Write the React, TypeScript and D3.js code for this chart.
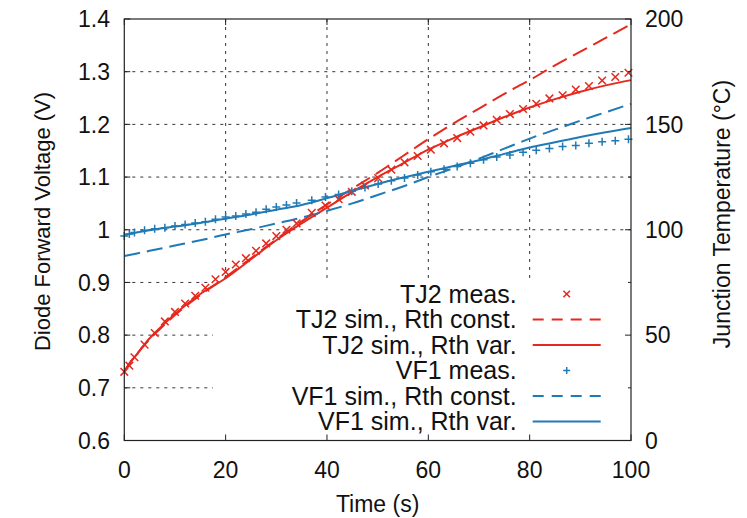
import React from "react";
import * as d3 from "d3";

// ---- Data ----
const measTime = [0, 1, 2, 4, 6, 8, 10, 12, 14, 16, 18, 20, 22, 24, 26, 28, 30, 32, 34, 37, 39.7, 42.3, 44.9, 47.5, 50.1, 52.7, 55.3, 57.9, 60.5, 63.1, 65.7, 68.3, 70.9, 73.5, 76.1, 78.7, 81.3, 83.9, 86.5, 89.1, 91.7, 94.3, 96.9, 99.5];
// Junction temperature TJ2 measured (°C)
const tj2Meas = [32.6, 35.5, 39.5, 45.5, 51, 56.5, 61, 65, 68.7, 72.5, 76.5, 80, 83.5, 86.5, 90, 93.5, 97, 100, 103, 108, 111.5, 114.5, 118, 121, 124.5, 128.5, 132, 135, 138, 141, 143.5, 146.5, 149.5, 152.2, 154.9, 157.3, 159.8, 162.3, 163.8, 166.5, 168.2, 170.8, 172.5, 174.5];
// Diode forward voltage VF1 measured (V)
const vf1Meas = [0.988, 0.992, 0.995, 0.999, 1.002, 1.004, 1.007, 1.01, 1.013, 1.015, 1.02, 1.024, 1.026, 1.03, 1.033, 1.039, 1.043, 1.047, 1.051, 1.056, 1.062, 1.067, 1.073, 1.08, 1.087, 1.093, 1.098, 1.104, 1.11, 1.115, 1.12, 1.126, 1.133, 1.138, 1.142, 1.147, 1.151, 1.154, 1.158, 1.16, 1.164, 1.167, 1.169, 1.172];

const simTime = [0, 1, 2.5, 5, 7.5, 10, 15, 20, 25, 30, 35, 40, 45, 50, 55, 60, 65, 70, 75, 80, 85, 90, 95, 100];
const tj2SimConst = [32.6, 36.5, 41, 48, 54, 59.5, 69, 77.5, 86.5, 95.5, 104, 112, 119.5, 127, 135, 143, 150.5, 157.5, 164.5, 171, 178, 184.5, 191, 197.5];
const tj2SimVar = [32.6, 36.5, 41, 48.5, 54.5, 60, 69.5, 77, 86, 95, 103, 110.5, 118, 125, 131.5, 138, 143.5, 148.5, 153.5, 158, 162, 165.5, 168.5, 171];
const vf1SimConst = [0.95, 0.952, 0.955, 0.96, 0.965, 0.97, 0.98, 0.991, 1.001, 1.012, 1.023, 1.036, 1.05, 1.066, 1.082, 1.1, 1.117, 1.135, 1.154, 1.173, 1.19, 1.207, 1.223, 1.239];
const vf1SimVar = [0.99, 0.992, 0.995, 0.999, 1.003, 1.006, 1.013, 1.021, 1.029, 1.038, 1.047, 1.06, 1.074, 1.087, 1.099, 1.11, 1.121, 1.132, 1.144, 1.156, 1.166, 1.176, 1.185, 1.193];

const xTicks = [0, 20, 40, 60, 80, 100];
const yTicks = [0.6, 0.7, 0.8, 0.9, 1, 1.1, 1.2, 1.3, 1.4];
const y2Ticks = [0, 50, 100, 150, 200];
const y2Minor = [25, 75, 125, 175];

const legendLabels = [
  "TJ2 meas.",
  "TJ2 sim., Rth const.",
  "TJ2 sim., Rth var.",
  "VF1 meas.",
  "VF1 sim., Rth const.",
  "VF1 sim., Rth var.",
];

const RED = "#e5291f";
const BLUE = "#1f7ab5";
const FONT = "'Liberation Sans', Arial, Helvetica, sans-serif";

export default function App() {
  const W = 747, H = 518;
  const L = 124.3, R = 631, T = 19, B = 440.5;
  const x = d3.scaleLinear().domain([0, 100]).range([L, R]);
  const yV = d3.scaleLinear().domain([0.6, 1.4]).range([B, T]);
  const yT = d3.scaleLinear().domain([0, 200]).range([B, T]);

  const lineT = d3.line<number>().x((_, i) => x(simTime[i])).y((d) => yT(d)).curve(d3.curveMonotoneX);
  const lineV = d3.line<number>().x((_, i) => x(simTime[i])).y((d) => yV(d)).curve(d3.curveMonotoneX);

  const cross = (cx: number, cy: number, s: number, color: string, key: string) => (
    <path key={key} d={`M${cx - s},${cy - s}L${cx + s},${cy + s}M${cx - s},${cy + s}L${cx + s},${cy - s}`} stroke={color} strokeWidth={1.5} fill="none" />
  );
  const plus = (cx: number, cy: number, s: number, color: string, key: string) => (
    <path key={key} d={`M${cx - s},${cy}L${cx + s},${cy}M${cx},${cy - s}L${cx},${cy + s}`} stroke={color} strokeWidth={1.5} fill="none" />
  );

  const legX = 516.7, sampleX1 = 532.7, sampleX2 = 600.7, sampleMid = 566.7;
  const legY0 = 294, legDy = 25.5;

  return (
    <svg width={W} height={H} style={{ position: "absolute", left: 0, top: 0, background: "#fff" }} fontFamily={FONT}>
      <rect x={0} y={0} width={W} height={H} fill="#fff" />
      {/* grid */}
      <g stroke="#333" strokeWidth={1} strokeDasharray="3,5">
        {xTicks.filter((t) => t > 0 && t < 100).map((t) => (
          <line key={"gx" + t} x1={x(t)} x2={x(t)} y1={T} y2={B} />
        ))}
        {yTicks.filter((t) => t > 0.6 && t < 1.4).map((t) => (
          <line key={"gy" + t} x1={L} x2={R} y1={yV(t)} y2={yV(t)} />
        ))}
      </g>
      {/* opaque legend background */}
      <rect x={213} y={281} width={R - 213} height={B - 281} fill="#fff" />
      {/* curves */}
      <path d={lineT(tj2SimConst) || ""} fill="none" stroke={RED} strokeWidth={2} strokeDasharray="16,7" />
      <path d={lineT(tj2SimVar) || ""} fill="none" stroke={RED} strokeWidth={2} />
      <path d={lineV(vf1SimConst) || ""} fill="none" stroke={BLUE} strokeWidth={2} strokeDasharray="16,7" />
      <path d={lineV(vf1SimVar) || ""} fill="none" stroke={BLUE} strokeWidth={2} />
      {tj2Meas.map((v, i) => cross(x(measTime[i]), yT(v), 3.8, RED, "m1" + i))}
      {vf1Meas.map((v, i) => plus(x(measTime[i]), yV(v), 4, BLUE, "m2" + i))}
      {/* border */}
      <rect x={L} y={T} width={R - L} height={B - T} fill="none" stroke="#222" strokeWidth={1.2} />
      {/* ticks */}
      <g stroke="#222" strokeWidth={1}>
        {xTicks.map((t) => (
          <g key={"xt" + t}>
            <line x1={x(t)} x2={x(t)} y1={B} y2={B - 6} />
            <line x1={x(t)} x2={x(t)} y1={T} y2={T + 6} />
          </g>
        ))}
        {yTicks.map((t) => (
          <line key={"yt" + t} x1={L} x2={L + 6} y1={yV(t)} y2={yV(t)} />
        ))}
        {y2Ticks.map((t) => (
          <line key={"y2t" + t} x1={R} x2={R - 6} y1={yT(t)} y2={yT(t)} />
        ))}
        {y2Minor.map((t) => (
          <line key={"y2m" + t} x1={R} x2={R - 3} y1={yT(t)} y2={yT(t)} />
        ))}
      </g>
      {/* tick labels */}
      <g fontSize={23} fill="#111">
        {xTicks.map((t) => (
          <text key={"xl" + t} x={x(t)} y={478} textAnchor="middle">{t}</text>
        ))}
        {yTicks.map((t) => (
          <text key={"yl" + t} x={110} y={yV(t) + 8.3} textAnchor="end">{d3.format("")(t)}</text>
        ))}
        {y2Ticks.map((t) => (
          <text key={"y2l" + t} x={645} y={yT(t) + 8.3} textAnchor="start">{t}</text>
        ))}
      </g>
      {/* axis titles */}
      <text x={(L + R) / 2} y={512} textAnchor="middle" fontSize={23} fill="#111">Time (s)</text>
      <text transform={`translate(50,221.5) rotate(-90)`} textAnchor="middle" fontSize={22} fill="#111">Diode Forward Voltage (V)</text>
      <text transform={`translate(730,214) rotate(-90)`} textAnchor="middle" fontSize={23} fill="#111">Junction Temperature (°C)</text>
      {/* legend */}
      <g fontSize={25} fill="#111">
        {legendLabels.map((lab, i) => {
          const cy = legY0 + i * legDy;
          const color = i < 3 ? RED : BLUE;
          let sample: React.ReactNode = null;
          if (i === 0) sample = cross(sampleMid, cy, 3.3, color, "lc");
          else if (i === 3) sample = plus(sampleMid, cy, 3.5, color, "lp");
          else if (i === 1 || i === 4)
            sample = <line x1={sampleX1} x2={sampleX2} y1={cy} y2={cy} stroke={color} strokeWidth={2} strokeDasharray="11,8" />;
          else sample = <line x1={sampleX1} x2={sampleX2} y1={cy} y2={cy} stroke={color} strokeWidth={2} />;
          return (
            <g key={"lg" + i}>
              <text x={legX} y={cy + 8.8} textAnchor="end">{lab}</text>
              {sample}
            </g>
          );
        })}
      </g>
    </svg>
  );
}
